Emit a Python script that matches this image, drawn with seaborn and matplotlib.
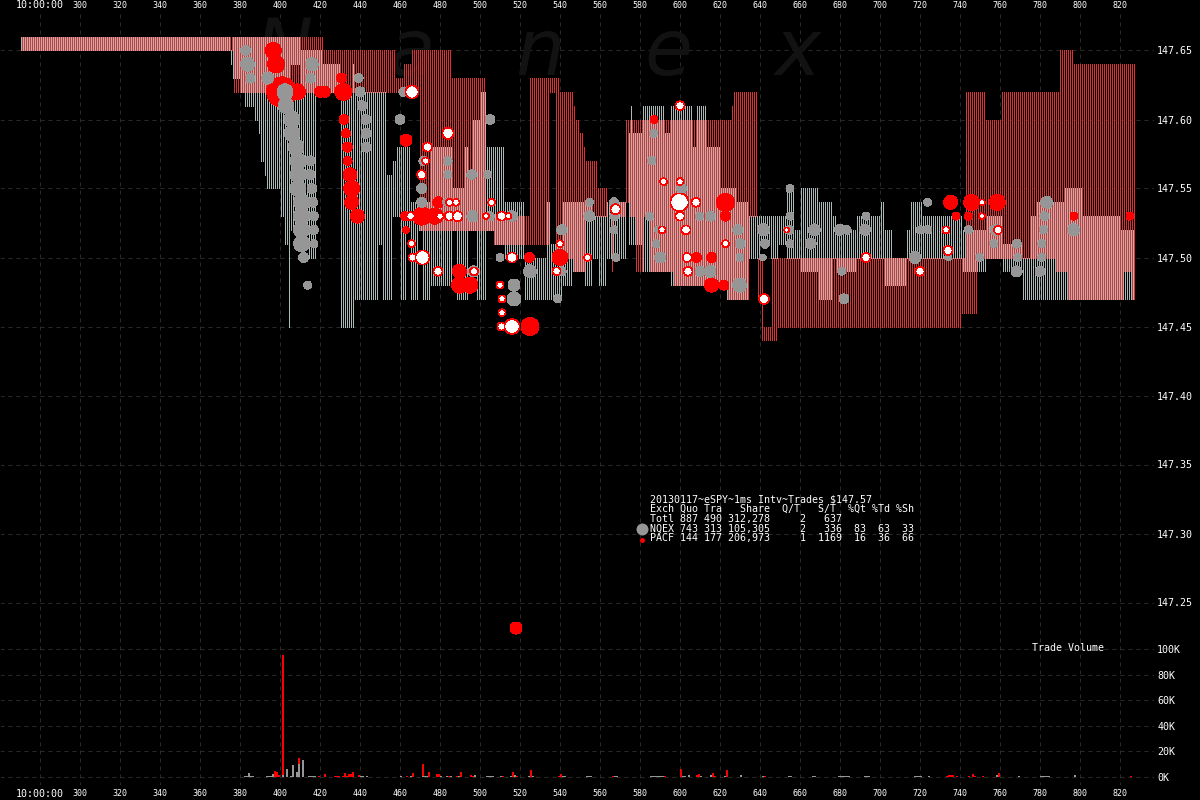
import numpy as np
import pandas as pd
import matplotlib
matplotlib.use('Agg')
import matplotlib.pyplot as plt
import seaborn as sns

MONO = 'DejaVu Sans Mono'
GREY_STRIPE = '#aab8b8'
RED_STRIPE = '#dc3232'
GRID = '#292929'

# quote ranges, one entry per stretch of ms: start, end, low, high
nq_start = [270, 375, 376.5, 380, 382, 387, 389, 390, 392, 393,
            400, 402, 404, 405, 405, 410, 414, 418, 421, 430,
            436, 437.5, 449, 451, 453.7, 456, 458, 460, 463.5, 465,
            469, 471.5, 475, 482, 486.5, 488, 492, 494, 496, 498,
            500, 503, 507, 512.5, 522, 533, 535, 541.7, 546.7, 552,
            556, 559, 563, 574, 575, 580, 581, 592, 595, 606,
            608, 613, 620, 623.3, 628.3, 634.2, 640, 645, 649, 653,
            657.5, 660, 669.7, 676.7, 678.3, 688.3, 700, 702.5, 706.5, 713,
            715, 721.7, 741.7, 753.3, 761, 771, 775, 778, 787, 792,
            801, 820]
nq_end = [375, 376.5, 380, 382, 387, 389, 390, 392, 393, 400,
          402, 404, 405, 410, 410, 414, 418, 421, 430, 436,
          437.5, 449, 451, 453.7, 456, 458, 460, 463.5, 465, 469,
          471.5, 475, 482, 486.5, 488, 492, 494, 496, 498, 500,
          503, 507, 512.5, 522, 533, 535, 541.7, 546.7, 552, 556,
          559, 563, 573, 580, 576, 581, 592, 595, 606, 608,
          613, 620, 623.3, 628.3, 634.2, 640, 645, 649, 653, 657.5,
          660, 669.7, 676.7, 678.3, 688.3, 700, 702.5, 706.5, 713, 715,
          721.7, 741.7, 753.3, 761, 771, 775, 778, 787, 792, 801,
          820, 827]
nq_low = [147.65, 147.64, 147.63, 147.62, 147.61, 147.60, 147.59, 147.57, 147.56, 147.55,
          147.53, 147.51, 147.45, 147.64, 147.52, 147.52, 147.50, 147.62, 147.62, 147.45,
          147.45, 147.47, 147.51, 147.47, 147.47, 147.53, 147.53, 147.47, 147.52, 147.47,
          147.52, 147.47, 147.48, 147.48, 147.52, 147.47, 147.47, 147.52, 147.52, 147.47,
          147.47, 147.52, 147.51, 147.50, 147.47, 147.47, 147.47, 147.48, 147.49, 147.48,
          147.50, 147.48, 147.50, 147.51, 147.59, 147.51, 147.49, 147.49, 147.48, 147.48,
          147.48, 147.48, 147.48, 147.47, 147.47, 147.50, 147.51, 147.50, 147.51, 147.50,
          147.50, 147.49, 147.47, 147.50, 147.49, 147.50, 147.50, 147.48, 147.48, 147.50,
          147.50, 147.50, 147.49, 147.50, 147.49, 147.47, 147.47, 147.47, 147.47, 147.47,
          147.47, 147.47]
nq_high = [147.66, 147.65, 147.66, 147.66, 147.66, 147.66, 147.66, 147.66, 147.66, 147.66,
           147.66, 147.66, 147.66, 147.66, 147.62, 147.65, 147.65, 147.65, 147.64, 147.62,
           147.64, 147.62, 147.62, 147.62, 147.56, 147.57, 147.58, 147.58, 147.58, 147.54,
           147.54, 147.54, 147.58, 147.58, 147.55, 147.55, 147.58, 147.56, 147.60, 147.60,
           147.62, 147.58, 147.58, 147.54, 147.50, 147.54, 147.51, 147.54, 147.54, 147.54,
           147.53, 147.53, 147.54, 147.59, 147.61, 147.59, 147.61, 147.59, 147.61, 147.58,
           147.61, 147.58, 147.55, 147.55, 147.54, 147.53, 147.53, 147.53, 147.53, 147.55,
           147.52, 147.55, 147.54, 147.53, 147.52, 147.53, 147.54, 147.52, 147.50, 147.52,
           147.54, 147.53, 147.52, 147.53, 147.51, 147.50, 147.53, 147.54, 147.54, 147.55,
           147.53, 147.52]

pa_start = [270, 376.5, 421, 457, 461.7, 465.5, 469, 485, 502, 506.7,
            524.5, 534, 537.5, 539, 546, 547, 549, 551, 552, 558,
            565, 566, 572.5, 574, 577.5, 581, 584.5, 596.7, 623.3, 625,
            626.5, 634, 638.5, 640, 640, 645, 740, 742.5, 752, 760.3,
            787.5, 789, 793, 796.3, 821.7, 825]
pa_end = [376.5, 421, 457, 461.7, 465.5, 469, 485, 502, 506.7, 524,
          534, 537.5, 539, 546, 547, 549, 551, 552, 558, 563,
          566, 572.5, 574, 577.5, 581, 584.5, 596.7, 623.3, 625, 626.5,
          634, 638, 640, 641, 648, 740, 748, 752, 760.3, 787.5,
          789, 793, 796.3, 821.7, 825, 827]
pa_low = [147.65, 147.62, 147.62, 147.62, 147.62, 147.62, 147.52, 147.52, 147.52, 147.51,
          147.51, 147.62, 147.50, 147.50, 147.49, 147.49, 147.49, 147.49, 147.53, 147.53,
          147.49, 147.53, 147.54, 147.53, 147.49, 147.53, 147.49, 147.48, 147.47, 147.47,
          147.47, 147.53, 147.47, 147.45, 147.44, 147.45, 147.46, 147.50, 147.50, 147.50,
          147.49, 147.49, 147.47, 147.47, 147.49, 147.47]
pa_high = [147.66, 147.66, 147.65, 147.63, 147.64, 147.65, 147.65, 147.63, 147.53, 147.53,
           147.63, 147.63, 147.63, 147.62, 147.61, 147.60, 147.59, 147.58, 147.57, 147.55,
           147.54, 147.54, 147.60, 147.60, 147.60, 147.60, 147.60, 147.60, 147.60, 147.61,
           147.62, 147.62, 147.50, 147.50, 147.45, 147.50, 147.50, 147.62, 147.60, 147.62,
           147.62, 147.65, 147.65, 147.64, 147.64, 147.64]

# trades: ms, price level and shares
grey_ms = [382.8, 383.7, 385, 393.8, 415.8, 415, 439.3, 440, 441, 443,
           443, 443, 402.5, 403, 406, 406, 408, 409, 409, 409,
           410.8, 410.8, 410.8, 410.8, 415, 415, 416, 416.3, 417, 417,
           417, 411.8, 413.8, 461.7, 460, 505, 483.8, 471.7, 483.8, 495.8,
           503.7, 470.8, 470.8, 496.2, 505, 515.8, 483.3, 554.7, 567, 554.7,
           567.2, 540.8, 567, 510, 525, 540.8, 517, 517, 538.8, 568,
           586.7, 585.8, 600.8, 584.7, 609.7, 615, 589.2, 628.8, 588, 630,
           590, 630, 610, 615, 629.7, 496.7, 655, 655, 641.7, 654.7,
           642.5, 655, 641.3, 667.2, 665.3, 680, 683.3, 693, 692.5, 680.8,
           682, 723.8, 720, 723.8, 717.5, 734.2, 744.2, 757.8, 756.7, 749.7,
           768.3, 768.8, 768.3, 780, 783.3, 782.2, 781.7, 780.8, 780.8, 796.7]
grey_px = [147.65, 147.64, 147.63, 147.63, 147.64, 147.63, 147.63, 147.62, 147.61, 147.60,
           147.59, 147.58, 147.62, 147.61, 147.60, 147.59, 147.58, 147.57, 147.56, 147.55,
           147.54, 147.53, 147.52, 147.51, 147.57, 147.56, 147.55, 147.54, 147.53, 147.52,
           147.51, 147.50, 147.48, 147.62, 147.60, 147.60, 147.57, 147.57, 147.56, 147.56,
           147.56, 147.55, 147.54, 147.53, 147.53, 147.53, 147.54, 147.54, 147.54, 147.53,
           147.53, 147.52, 147.52, 147.50, 147.49, 147.49, 147.48, 147.47, 147.47, 147.50,
           147.59, 147.57, 147.55, 147.53, 147.53, 147.53, 147.52, 147.52, 147.51, 147.51,
           147.50, 147.50, 147.49, 147.49, 147.48, 147.49, 147.55, 147.53, 147.52, 147.52,
           147.51, 147.51, 147.50, 147.52, 147.51, 147.52, 147.52, 147.53, 147.52, 147.49,
           147.47, 147.54, 147.52, 147.52, 147.50, 147.50, 147.52, 147.52, 147.51, 147.50,
           147.51, 147.50, 147.49, 147.49, 147.54, 147.53, 147.52, 147.51, 147.50, 147.52]
grey_sh = [1000, 1960, 1000, 1440, 1700, 1000, 810, 1000, 1000, 1000,
           1000, 1000, 2560, 2560, 2560, 2560, 2560, 2560, 2560, 2560,
           2560, 2560, 2560, 2560, 1000, 1000, 1000, 1000, 810, 810,
           640, 1000, 640, 810, 1000, 1000, 810, 810, 640, 1000,
           640, 1000, 1000, 1210, 810, 1210, 640, 640, 810, 1210,
           810, 1000, 640, 640, 1700, 810, 1440, 1960, 640, 640,
           640, 640, 1000, 640, 640, 1000, 640, 1000, 640, 1000,
           1210, 640, 1000, 1440, 1960, 1210, 640, 640, 1440, 810,
           810, 640, 490, 1440, 1210, 1210, 810, 640, 1210, 640,
           1000, 640, 640, 640, 1440, 490, 640, 1210, 640, 640,
           810, 640, 1210, 1000, 1440, 810, 640, 640, 640, 1440]

red_ms = [396.7, 398, 400.8, 408.8, 420, 422.5, 431.7, 430.8, 432, 433,
          433.7, 433.8, 435, 435.8, 435.8, 438.7, 463, 479.2, 470.8, 477.5,
          462.5, 463, 489.7, 489.7, 495, 524.7, 540, 525, 587, 622.8,
          622.8, 608.3, 615.8, 615.8, 622, 735.3, 745.8, 758.7, 738, 744.2,
          797, 825, 518]
red_px = [147.65, 147.64, 147.62, 147.62, 147.62, 147.62, 147.62, 147.63, 147.60, 147.59,
          147.58, 147.57, 147.56, 147.55, 147.54, 147.53, 147.585, 147.54, 147.53, 147.53,
          147.53, 147.52, 147.49, 147.48, 147.48, 147.50, 147.50, 147.45, 147.60, 147.54,
          147.53, 147.50, 147.50, 147.48, 147.48, 147.54, 147.54, 147.54, 147.53, 147.53,
          147.53, 147.53, 147.2315]
red_sh = [2560, 2890, 9000, 2560, 1210, 1210, 2890, 1000, 1000, 810,
          1000, 810, 1960, 2560, 1960, 1960, 1440, 1210, 3240, 2560,
          810, 490, 1960, 2560, 2560, 1000, 2560, 3240, 640, 3240,
          1000, 1000, 1000, 1960, 1000, 1960, 2560, 2560, 640, 640,
          640, 640, 1440]

white_ms = [466, 484, 473.8, 472.8, 470.8, 465.3, 480, 484.7, 488, 484.7,
            488.8, 505.8, 503, 510.8, 514.2, 465.8, 466.3, 471.2, 479, 497,
            516, 510, 511, 511, 510.7, 516, 540, 538.3, 553.8, 567.8,
            600, 591.8, 600, 599.7, 608, 600, 591, 603, 622.8, 603.7,
            604, 642, 653.3, 693, 720, 733, 734, 751, 751, 759]
white_px = [147.62, 147.59, 147.58, 147.57, 147.56, 147.53, 147.53, 147.54, 147.54, 147.53,
            147.53, 147.54, 147.53, 147.53, 147.53, 147.51, 147.50, 147.50, 147.49, 147.49,
            147.50, 147.48, 147.47, 147.46, 147.45, 147.45, 147.51, 147.49, 147.50, 147.535,
            147.61, 147.555, 147.555, 147.54, 147.54, 147.53, 147.52, 147.52, 147.51, 147.50,
            147.49, 147.47, 147.52, 147.50, 147.49, 147.52, 147.505, 147.54, 147.53, 147.52]
white_sh = [1700, 1210, 810, 490, 810, 640, 490, 490, 490, 810,
            1000, 490, 360, 810, 360, 490, 640, 1960, 810, 640,
            1000, 490, 490, 490, 640, 2250, 490, 640, 490, 1000,
            810, 490, 490, 3240, 810, 810, 490, 810, 490, 810,
            810, 1000, 250, 810, 810, 490, 810, 360, 360, 640]

# trade volume in thousands of shares
pa_vol_ms = [397.5, 398.5, 399.5, 401.5, 409.5, 419.5, 422.5, 427.5, 428.5, 429.5,
             431.5, 432.5, 433.5, 434.5, 435.5, 436.5, 439.5, 463.5, 466.5, 471.5,
             474.5, 478.5, 479.5, 484.5, 488.5, 490.5, 495.5, 496.5, 511.5, 516.5,
             518.5, 525.5, 539.5, 540.5, 566.5, 592.5, 600.5, 608.5, 609.5, 616.5,
             617.5, 623.5, 642.5, 733.5, 734.5, 735.5, 736.5, 738.5, 744.5, 746.5,
             747.5, 751.5, 759.5, 825.5]
pa_vol = [4.7, 4, 1.5, 95, 15, 0.8, 2.6, 1, 0.8, 0.8,
          0.8, 3, 1, 2, 2.6, 4, 1.8, 1, 3, 10,
          4, 2.6, 2.6, 1, 0.8, 4, 1.8, 1, 1, 4,
          1, 5.7, 0.8, 2.6, 0.8, 0.8, 6, 1.2, 2.6, 3.5,
          0.8, 5.2, 1, 0.8, 1.5, 1.5, 1.5, 0.8, 1, 2.6,
          1, 0.8, 3, 0.8]
nq_vol_ms = [382.5, 383.5, 384.5, 385.5, 386.5, 393.5, 394.5, 395.5, 396.5, 401.5,
             403.5, 405.5, 406.5, 408.5, 409.5, 411.5, 414.5, 415.5, 416.5, 417.5,
             440.5, 441.5, 443.5, 460.5, 465.5, 471.5, 472.5, 473.5, 480.5, 483.5,
             485.5, 489.5, 497.5, 503.5, 504.5, 505.5, 506.5, 510.5, 515.5, 517.5,
             524.5, 526.5, 541.5, 542.5, 553.5, 554.5, 555.5, 567.5, 568.5, 585.5,
             586.5, 587.5, 588.5, 589.5, 590.5, 591.5, 601.5, 602.5, 604.5, 610.5,
             615.5, 622.5, 630.5, 641.5, 654.5, 655.5, 666.5, 667.5, 679.5, 680.5,
             681.5, 682.5, 683.5, 684.5, 692.5, 693.5, 694.5, 717.5, 718.5, 719.5,
             720.5, 724.5, 758.5, 769.5, 780.5, 781.5, 782.5, 783.5, 784.5, 797.5]
nq_vol = [0.8, 0.8, 3, 0.8, 0.8, 0.8, 0.8, 0.8, 2.5, 1.5,
          6.5, 0.8, 9, 4, 10, 13, 0.8, 1, 0.8, 1,
          0.8, 0.8, 0.8, 0.8, 0.8, 0.8, 0.8, 0.8, 0.8, 0.8,
          0.8, 1, 1.2, 0.8, 0.8, 0.8, 0.8, 0.8, 0.8, 1.8,
          0.7, 1, 0.8, 0.8, 0.8, 0.8, 0.8, 0.8, 0.8, 0.8,
          0.8, 0.8, 0.8, 0.8, 0.8, 0.8, 0.8, 0.8, 1.2, 0.8,
          1.5, 0.8, 1.7, 0.8, 0.8, 0.8, 1, 0.8, 0.8, 0.8,
          0.8, 0.8, 0.8, 0.8, 0.8, 0.8, 0.8, 0.8, 0.8, 0.8,
          0.8, 0.8, 1.2, 0.8, 0.8, 0.8, 0.8, 0.8, 0.8, 1.5]

x_ticks = list(range(280, 821, 20))
price_ticks = [147.25, 147.30, 147.35, 147.40, 147.45, 147.50, 147.55, 147.60, 147.65]
vol_ticks = [0, 20, 40, 60, 80, 100]
watermark = ['N', 'a', 'n', 'e', 'x']
watermark_ms = [402, 466, 530, 594, 658.5]

summary = [
    '20130117~eSPY~1ms Intv~Trades $147.57',
    'Exch Quo Tra   Share  Q/T   S/T  %Qt %Td %Sh',
    'Totl 887 490 312,278     2   637',
    'NQEX 743 313 105,305     2   336  83  63  33',
    'PACF 144 177 206,973     1  1169  16  36  66',
]


def stripes(ax, start, end, low, high, color, offset):
    for s, e, lo, hi in zip(start, end, low, high):
        ms = np.arange(np.floor(s), np.floor(e)) + offset
        vl = ax.vlines(ms, lo, hi, colors=color, linewidth=0.72, zorder=2)
        vl.set_antialiased(False)


def dots(ax, ms, px, shares, color, edge=None, zorder=3):
    df = pd.DataFrame({'ms': ms, 'px': px})
    before = len(ax.collections)
    sns.scatterplot(data=df, x='ms', y='px', s=np.array(shares) * 0.05184, color=color,
                    edgecolor=edge if edge else color, linewidth=0.4 if edge else 0,
                    legend=False, zorder=zorder, ax=ax)
    for c in ax.collections[before:]:
        c.set_antialiased(False)


def volume_bars(ax, ms, vol, color, zorder):
    before = len(ax.patches)
    df = pd.DataFrame({'ms': ms, 'vol': vol})
    sns.barplot(data=df, x='ms', y='vol', color=color, saturation=1, width=1,
                native_scale=True, errorbar=None, linewidth=0, zorder=zorder, ax=ax)
    for p in ax.patches[before:]:
        p.set_antialiased(False)
        p.set_edgecolor('none')


sns.set_theme(style='darkgrid', rc={
    'figure.facecolor': 'black', 'axes.facecolor': 'black', 'savefig.facecolor': 'black',
    'axes.edgecolor': 'black', 'grid.color': GRID, 'grid.linestyle': (0, (4, 4)), 'grid.linewidth': 0.72,
    'text.color': 'white', 'xtick.color': 'white', 'ytick.color': 'white',
})
plt.rcParams['font.family'] = [MONO]

fig = plt.figure(figsize=(12, 8), dpi=100)
ax = fig.add_axes([0, 14 / 800, 1155 / 1200, 773 / 800])
ax.set_axisbelow(True)

for m, letter in zip(watermark_ms, watermark):
    ax.text(m, 147.632, letter, fontsize=56, style='italic', family='DejaVu Sans',
            color='#121212', ha='center', va='baseline', zorder=1)

stripes(ax, nq_start, nq_end, nq_low, nq_high, GREY_STRIPE, 0.25)
stripes(ax, pa_start, pa_end, pa_low, pa_high, RED_STRIPE, 0.75)

dots(ax, red_ms, red_px, red_sh, '#ff0000', zorder=3)
dots(ax, grey_ms, grey_px, grey_sh, '#969696', zorder=4)
dots(ax, white_ms, white_px, white_sh, 'white', edge='#ff0000', zorder=5)
# key markers beside the summary table
dots(ax, [581], [147.3035], [1440], '#969696', zorder=5)
dots(ax, [581], [147.2955], [250], '#ff0000', zorder=5)

vol_ax = ax.twinx()
vol_ax.patch.set_visible(False)
vol_ax.set_axisbelow(True)
volume_bars(vol_ax, pa_vol_ms, pa_vol, '#ff0000', 3)
volume_bars(vol_ax, nq_vol_ms, nq_vol, '#969696', 4)

ax.set_xlim(260, 837.5)
ax.set_ylim(147.65 - 735.5 / 1380, 147.65 + 37.5 / 1380)
ax.set_xticks(x_ticks)
ax.set_xticklabels(['10:00:00' if t == 280 else str(t) for t in x_ticks], fontsize=6)
ax.xaxis.set_tick_params(top=True, labeltop=True, bottom=True, labelbottom=True, length=0, pad=2.3)
first = ax.xaxis.get_major_ticks()[0]
first.label1.set_fontsize(7.2)
first.label2.set_fontsize(7.2)
ax.yaxis.tick_right()
ax.set_yticks(price_ticks)
ax.set_yticklabels([f'{p:.2f}' for p in price_ticks], fontsize=7.2)
ax.tick_params(axis='y', length=0, pad=1.5)
ax.set_xlabel('')
ax.set_ylabel('')
ax.grid(True)

vol_ax.set_ylim(-9 / 1.28, 764 / 1.28)
vol_ax.set_yticks(vol_ticks)
vol_ax.set_yticklabels([f'{v}K' for v in vol_ticks], fontsize=7.2)
vol_ax.tick_params(axis='y', length=0, pad=1.5)
vol_ax.yaxis.tick_right()
vol_ax.set_xlabel('')
vol_ax.set_ylabel('')
vol_ax.grid(True, axis='y')
vol_ax.grid(False, axis='x')
vol_ax.tick_params(axis='x', top=False, labeltop=False, bottom=False, labelbottom=False)

for i, row in enumerate(summary):
    fig.text(650 / 1200, 1 - (499 + i * 9.8) / 800, row, fontsize=7.2, color='white', va='center', ha='left')
fig.text(1032 / 1200, 1 - 648 / 800, 'Trade Volume', fontsize=7.2, color='white', va='center', ha='left')

fig.savefig('out.png', dpi=100, facecolor='black')
